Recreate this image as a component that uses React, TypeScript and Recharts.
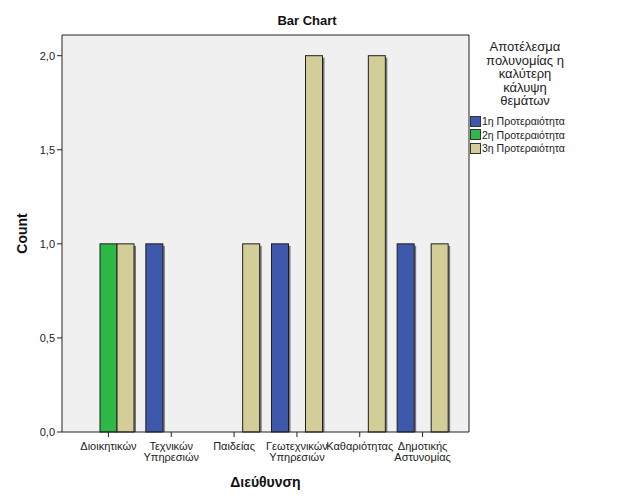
import React from 'react';
import { BarChart, Bar, XAxis, YAxis, CartesianGrid } from 'recharts';

const categories = [
  'Διοικητικών',
  'Τεχνικών Υπηρεσιών',
  'Παιδείας',
  'Γεωτεχνικών Υπηρεσιών',
  'Καθαριότητας',
  'Δημοτικής Αστυνομίας'
];
const first = [0, 1, 0, 1, 0, 1];
const second = [1, 0, 0, 0, 0, 0];
const third = [1, 0, 1, 2, 2, 1];
const yTicks = [0, 0.5, 1, 1.5, 2];

const legendTitle = ['Αποτέλεσμα', 'πολυνομίας η', 'καλύτερη', 'κάλυψη', 'θεμάτων'];
const series = [
  { key: 'p1', name: '1η Προτεραιότητα', color: '#3E58AC' },
  { key: 'p2', name: '2η Προτεραιότητα', color: '#2EB848' },
  { key: 'p3', name: '3η Προτεραιότητα', color: '#D3CE97' }
];

const data = categories.map((name, i) => ({
  name,
  p1: first[i],
  p2: second[i],
  p3: third[i]
}));

const FONT = '"Liberation Sans", Arial, sans-serif';

// bar with the little grey drop shadow SPSS draws on the right
function ShadowBar(props: any) {
  const { x, y, width, height, fill } = props;
  if (!height || height <= 0) return <g />;
  return (
    <g>
      <rect x={x + width} y={y + 2} width={2} height={height - 2} fill="#777" />
      <rect x={x} y={y} width={width} height={height} fill={fill} stroke="#1e1e1e" strokeWidth={1} />
    </g>
  );
}

function CategoryTick(props: any) {
  const { x, y, payload } = props;
  const lines = String(payload.value).split(' ');
  return (
    <text x={x} y={y} textAnchor="middle" fontSize={11} fill="#222" fontFamily={FONT}>
      {lines.map((line, i) => (
        <tspan key={i} x={x} dy={11}>
          {line}
        </tspan>
      ))}
    </text>
  );
}

export default function App() {
  return (
    <div style={{ position: 'absolute', left: 0, top: 0, width: 627, height: 502, background: '#fff', fontFamily: FONT }}>
      <div
        style={{
          position: 'absolute',
          top: 13,
          left: 0,
          width: 614,
          textAlign: 'center',
          fontSize: 13,
          fontWeight: 'bold',
          color: '#111'
        }}
      >
        Bar Chart
      </div>
      <BarChart
        width={627}
        height={502}
        data={data}
        margin={{ top: 34, right: 157, bottom: 0, left: 0 }}
        barGap={0}
        barSize={17}
      >
        <CartesianGrid fill="#F0F0F0" horizontal={false} vertical={false} />
        <XAxis
          dataKey="name"
          height={70}
          interval={0}
          padding={{ left: 15, right: 15 }}
          stroke="#222"
          tickSize={5}
          tick={<CategoryTick />}
          label={{
            value: 'Διεύθυνση',
            position: 'insideBottom',
            offset: 15,
            style: { fontSize: 14, fontWeight: 'bold', fill: '#111', fontFamily: FONT }
          }}
        />
        <XAxis xAxisId="top" dataKey="name" orientation="top" height={1} tick={false} tickLine={false} stroke="#222" />
        <YAxis
          width={62}
          domain={[0, 2.11]}
          ticks={yTicks}
          stroke="#222"
          tickSize={5}
          tickFormatter={(v: number) => v.toFixed(1).replace('.', ',')}
          tick={{ fontSize: 11, fill: '#222', fontFamily: FONT }}
          label={{
            value: 'Count',
            angle: -90,
            position: 'insideLeft',
            offset: 22,
            style: { textAnchor: 'middle', fontSize: 14, fontWeight: 'bold', fill: '#111', fontFamily: FONT }
          }}
        />
        <YAxis yAxisId="right" orientation="right" width={1} domain={[0, 1]} tick={false} tickLine={false} stroke="#222" />
        {series.map(s => (
          <Bar
            key={s.key}
            dataKey={s.key}
            name={s.name}
            fill={s.color}
            shape={<ShadowBar />}
            isAnimationActive={false}
          />
        ))}
      </BarChart>
      <div style={{ position: 'absolute', left: 470, top: 40, width: 108 }}>
        <div style={{ textAlign: 'center', fontSize: 13, lineHeight: '13.5px', color: '#222', paddingLeft: 2 }}>
          {legendTitle.map(t => (
            <div key={t}>{t}</div>
          ))}
        </div>
        <div style={{ marginTop: 7 }}>
          {series.map(s => (
            <div key={s.key} style={{ display: 'flex', alignItems: 'center', height: 13.5, fontSize: 10.5, color: '#222' }}>
              <span
                style={{
                  display: 'inline-block',
                  width: 9,
                  height: 9,
                  background: s.color,
                  border: '1px solid #333',
                  marginRight: 1
                }}
              />
              <span style={{ whiteSpace: 'nowrap' }}>{s.name}</span>
            </div>
          ))}
        </div>
      </div>
    </div>
  );
}
